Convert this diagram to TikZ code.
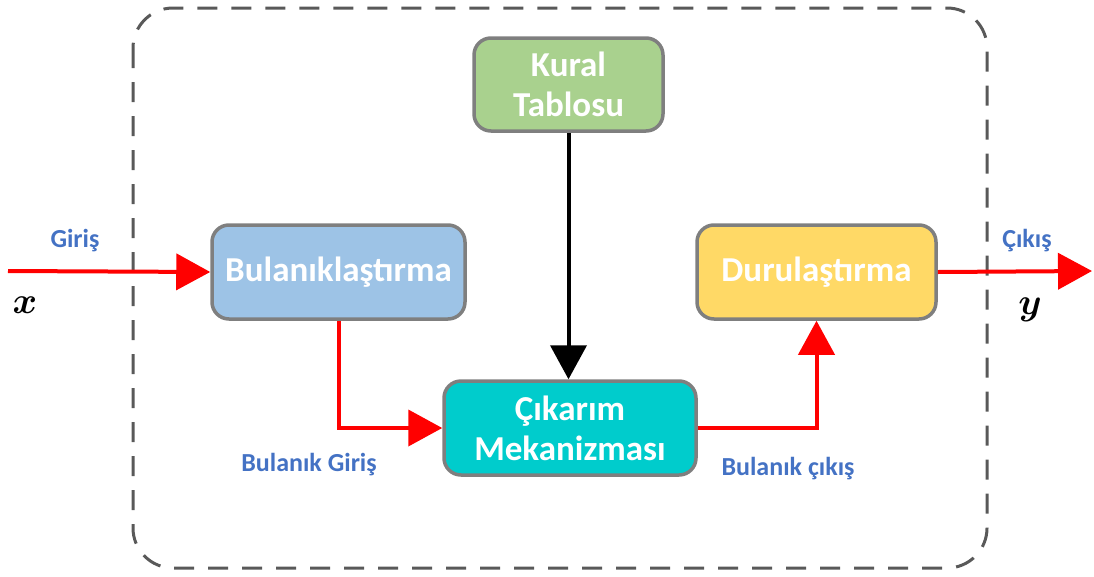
\documentclass[tikz,border=0pt]{standalone}
\usepackage{fontspec}
\setmainfont{Carlito}
\usetikzlibrary{arrows.meta}
\definecolor{boxline}{HTML}{7F7F7F}
\definecolor{frameline}{HTML}{595959}
\definecolor{greenfill}{HTML}{A9D18E}
\definecolor{bluefill}{HTML}{9DC3E6}
\definecolor{yellowfill}{HTML}{FFD966}
\definecolor{cyanfill}{HTML}{00CCCC}
\definecolor{labelblue}{HTML}{4472C4}
\definecolor{flowred}{HTML}{FF0000}
\tikzset{
  block/.style={draw=boxline, line width=3.5pt, rounded corners=17pt,
    text=white, font=\bfseries\fontsize{35}{40}\selectfont, align=center,
    inner sep=0pt},
  redflow/.style={draw=flowred, line width=4pt,
    -{Triangle[length=34pt,width=36pt]}},
  blackflow/.style={draw=black, line width=4pt,
    -{Triangle[length=34pt,width=36pt]}},
  tag/.style={text=labelblue, font=\bfseries\fontsize{26}{30}\selectfont},
  var/.style={font=\fontsize{24.88}{26}\selectfont\boldmath, scale=1.5},
  frame/.style={draw=frameline, line width=3pt, rounded corners=40pt,
    dash pattern=on 20pt off 14pt}
}
\begin{document}
\begin{tikzpicture}[x=1pt,y=-1pt]
  \useasboundingbox (0,0) rectangle (1094,576);
  % dashed system boundary
  \draw[frame] (133,8) rectangle (987,568);
  % processing blocks
  \node[block, fill=greenfill, minimum width=189pt, minimum height=93pt]
    (kural) at (568.5,84.5) {Kural\\Tablosu};
  \node[block, fill=bluefill, minimum width=253pt, minimum height=94pt]
    (bul) at (338.5,272) {Bulanıklaştırma};
  \node[block, fill=yellowfill, minimum width=239pt, minimum height=94pt]
    (dur) at (816.5,272) {Durulaştırma};
  \node[block, fill=cyanfill, minimum width=252pt, minimum height=94pt]
    (cik) at (570,428) {Çıkarım\\Mekanizması};
  % free ends of input and output
  \coordinate (in) at (8,271);
  \coordinate (out) at (1092,271);
  % signal flow
  \draw[redflow] (in) -- (bul.west);
  \draw[redflow] (bul.south) |- (cik.west);
  \draw[redflow] (cik.east) -| (dur.south);
  \draw[redflow] (dur.east) -- (out);
  \draw[blackflow] (kural.south) -- (kural.south |- cik.north);
  % labels
  \node[tag] (lgiris) at (75,241) {Giriş};
  \node[var] (lx) at (25,305) {$x$};
  \node[tag] (lbg) at (309,465) {Bulanık Giriş};
  \node[tag] (lbc) at (788,469) {Bulanık çıkış};
  \node[tag] (lcikis) at (1027,241) {Çıkış};
  \node[var] (ly) at (1030,310) {$y$};
\end{tikzpicture}
\end{document}
